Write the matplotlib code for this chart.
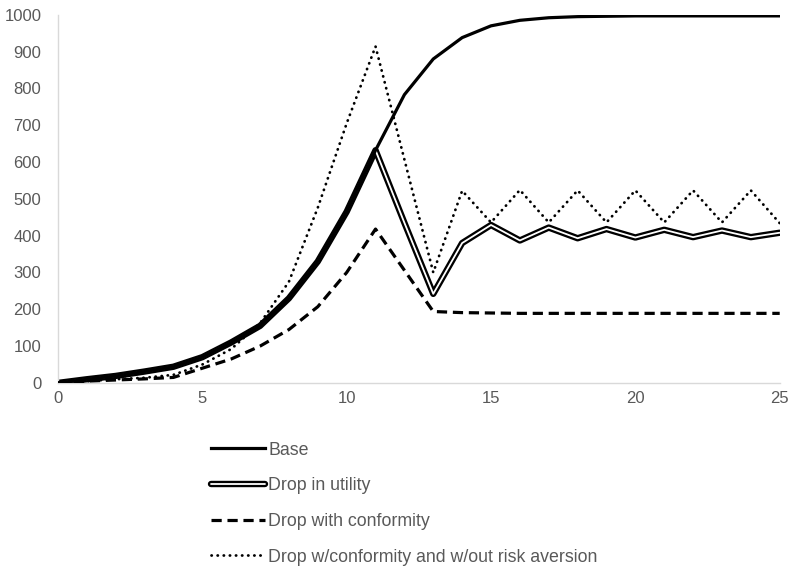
import matplotlib
matplotlib.use('Agg')
import matplotlib.pyplot as plt
import matplotlib.patheffects as pe

t = list(range(26))
base = [0, 10, 19, 31, 44, 70, 110, 155, 230, 330, 465, 632, 783, 880, 938, 970,
        985, 992, 995, 996, 997, 997, 997, 997, 997, 997]
utility = [0, 10, 19, 31, 44, 70, 110, 155, 230, 330, 465, 632, 435, 242, 380, 429,
           387, 422, 393, 418, 395, 416, 396, 414, 396, 408]
conformity = [0, 5, 8, 11, 15, 40, 65, 100, 145, 207, 300, 418, 306, 194, 191, 190,
              189, 189, 189, 189, 189, 189, 189, 189, 189, 189]
no_risk = [0, 5, 10, 14, 22, 50, 92, 162, 275, 476, 705, 914, 607, 300, 522, 436,
           524, 436, 523, 436, 523, 436, 523, 436, 523, 434]

labels = ['Base', 'Drop in utility', 'Drop with conformity',
          'Drop w/conformity and w/out risk aversion']

plt.rcParams['font.family'] = ['Liberation Sans', 'DejaVu Sans']
grey = '#595959'

fig = plt.figure(figsize=(7.94, 5.69), dpi=100)
ax = fig.add_axes([0.073, 0.327, 0.909, 0.647])

# double line: white core with black outline
l_util, = ax.plot(t, utility, color='white', lw=1.3, zorder=2,
                  solid_capstyle='round', solid_joinstyle='round',
                  path_effects=[pe.Stroke(linewidth=4.6, foreground='black'), pe.Normal()])
l_base, = ax.plot(t, base, color='black', lw=2.3, zorder=3)
l_conf, = ax.plot(t, conformity, color='black', lw=2.3, zorder=4,
                  linestyle=(0, (3.2, 1.8)))
l_risk, = ax.plot(t, no_risk, color='black', lw=2.0, zorder=5,
                  linestyle=(0, (0.1, 2.1)), dash_capstyle='round')

ax.set_xlim(0, 25)
ax.set_ylim(0, 1000)
ax.set_xticks(range(0, 26, 5))
ax.set_yticks(range(0, 1001, 100))
for s in ['top', 'right']:
    ax.spines[s].set_visible(False)
for s in ['left', 'bottom']:
    ax.spines[s].set_color('#d9d9d9')
    ax.spines[s].set_linewidth(1.0)
ax.tick_params(axis='both', length=0, labelsize=12, colors=grey)
ax.tick_params(axis='y', pad=12)
ax.tick_params(axis='x', pad=6)

fig.legend([l_base, l_util, l_conf, l_risk], labels, loc='upper left',
           bbox_to_anchor=(0.266, 0.224), frameon=False,
           prop={'size': 12.8, 'style': 'normal'},
           handlelength=3.0, handletextpad=0.2, labelspacing=1.05,
           labelcolor=grey, borderaxespad=0, borderpad=0)

fig.savefig('out.png', dpi=100)
